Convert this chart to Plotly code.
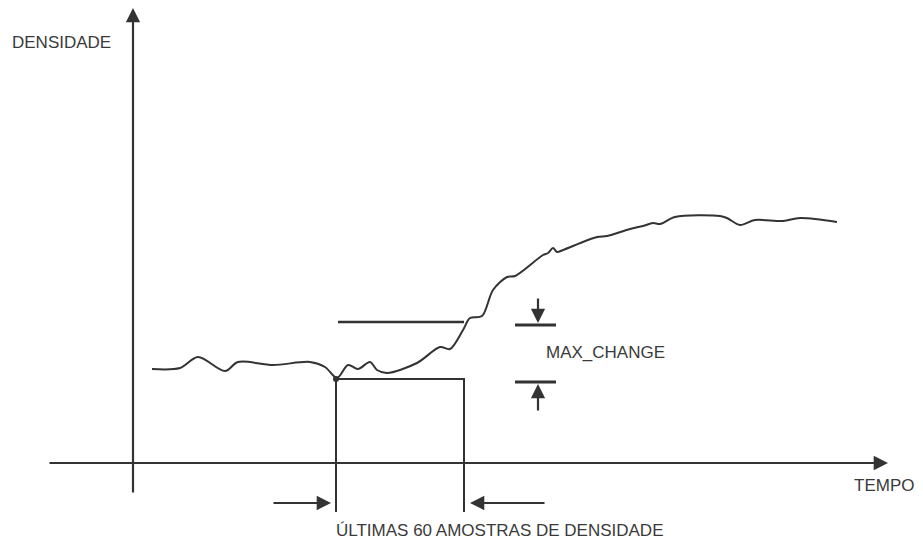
import plotly.graph_objects as go

INK = '#333333'
FONT = 'Liberation Sans, Arial, sans-serif'

# density curve (time, density) in page units
time_pts = [152, 180, 198, 225, 238, 273, 310, 325, 337, 348, 358, 370, 377, 387, 417, 440,
            450, 463, 470, 482, 493, 507, 515, 543, 548, 553, 557, 563, 597, 607, 630, 643,
            653, 660, 675, 720, 727, 740, 755, 783, 800, 837]
density_pts = [369, 368, 357, 371, 362, 365, 362, 367, 378, 365, 369, 362, 370, 373, 363, 347,
               349, 330, 318, 316, 290, 277, 276, 255, 253, 248, 252, 250, 237, 236, 229, 226,
               223, 224, 217, 216, 218, 225, 220, 221, 218, 222]

# window of the last 60 samples
window_start, window_end = 336, 464
window_level = 379
window_bottom = 512
max_level = 322
max_change_top, max_change_bottom = 325, 382

fig = go.Figure()

fig.add_trace(go.Scatter(
    x=time_pts, y=density_pts, mode='lines',
    line=dict(color=INK, width=2, shape='spline', smoothing=0.9),
    hoverinfo='skip', showlegend=False))

fig.add_trace(go.Scatter(
    x=[window_start], y=[window_level], mode='markers',
    marker=dict(color=INK, size=6), hoverinfo='skip', showlegend=False))

# window box
fig.add_trace(go.Scatter(
    x=[window_start, window_start, window_end, window_end],
    y=[window_bottom, window_level, window_level, window_bottom],
    mode='lines', line=dict(color=INK, width=2),
    hoverinfo='skip', showlegend=False))

# max level line
fig.add_trace(go.Scatter(
    x=[338, window_end], y=[max_level, max_level], mode='lines',
    line=dict(color=INK, width=2.5), hoverinfo='skip', showlegend=False))

# MAX_CHANGE bars
for yy in [max_change_top, max_change_bottom]:
    fig.add_trace(go.Scatter(
        x=[515, 556], y=[yy, yy], mode='lines',
        line=dict(color=INK, width=3), hoverinfo='skip', showlegend=False))

arrow = dict(showarrow=True, arrowhead=2, arrowsize=1.3, arrowwidth=2.2,
             arrowcolor=INK, axref='x', ayref='y', text='')

annotations = [
    # axes
    dict(x=133, y=8, ax=133, ay=494, **arrow),
    dict(x=888, y=463, ax=48, ay=463, **arrow),
    # MAX_CHANGE arrows
    dict(x=538, y=max_change_top - 2, ax=538, ay=297, **arrow),
    dict(x=538, y=max_change_bottom + 2, ax=538, ay=412, **arrow),
    # window arrows
    dict(x=window_start - 5, y=503, ax=272, ay=503, **arrow),
    dict(x=window_end + 6, y=503, ax=546, ay=503, **arrow),
    # labels
    dict(x=10, y=42, text='DENSIDADE', showarrow=False, xanchor='left', yanchor='middle'),
    dict(x=916, y=485, text='TEMPO', showarrow=False, xanchor='right', yanchor='middle'),
    dict(x=544, y=352, text='MAX_CHANGE', showarrow=False, xanchor='left', yanchor='middle'),
    dict(x=499, y=530, text='ÚLTIMAS 60 AMOSTRAS DE DENSIDADE', showarrow=False,
         xanchor='center', yanchor='middle'),
]

fig.update_layout(
    width=923, height=542,
    margin=dict(l=0, r=0, t=0, b=0),
    paper_bgcolor='white', plot_bgcolor='white',
    font=dict(family=FONT, size=17, color='#3a3a3a'),
    xaxis=dict(range=[0, 923], visible=False, fixedrange=True),
    yaxis=dict(range=[542, 0], visible=False, fixedrange=True),
    annotations=annotations,
    showlegend=False,
)

fig.write_html("out.html", config={'displayModeBar': False},
               post_script="document.body.style.margin='0';document.body.style.overflow='hidden';")
